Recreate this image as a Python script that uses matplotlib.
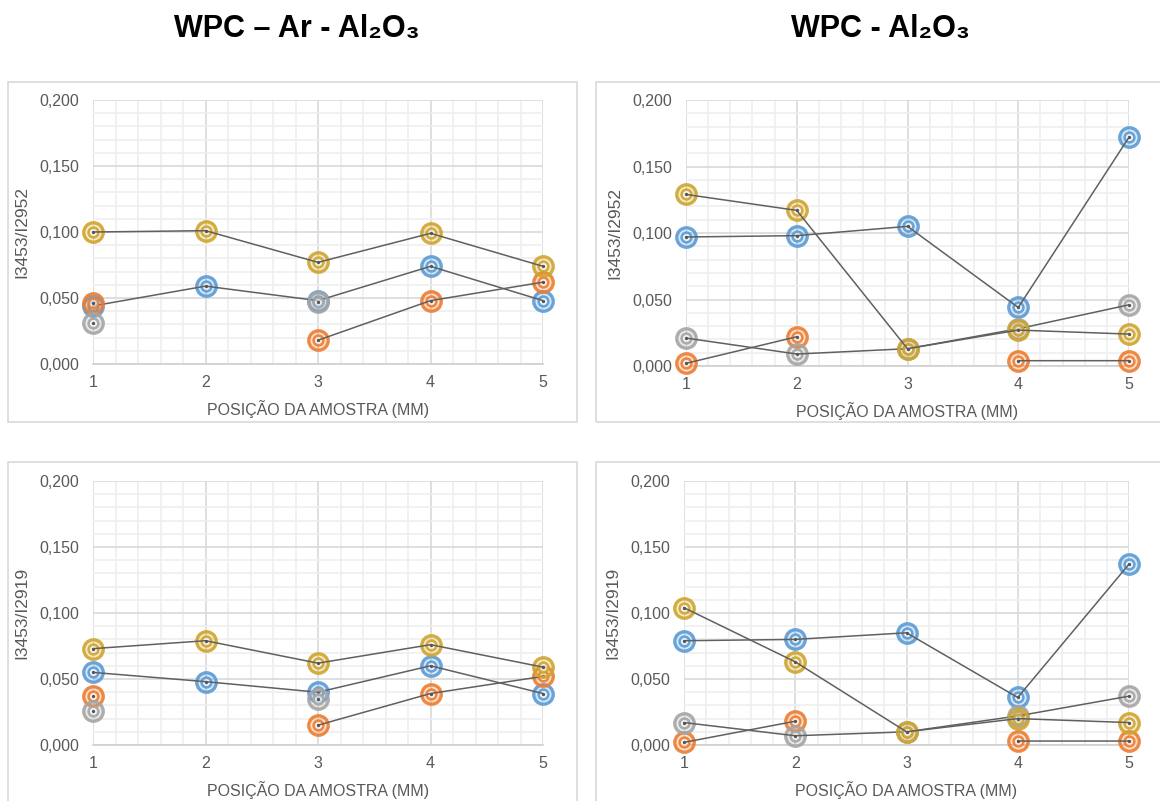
import numpy as np
import matplotlib.pyplot as plt
from matplotlib.patches import Rectangle
from matplotlib.ticker import MultipleLocator

plt.rcParams['font.family'] = ['Liberation Sans', 'DejaVu Sans']

nan = np.nan

positions = [1, 2, 3, 4, 5]
ytick_values = [0.0, 0.05, 0.10, 0.15, 0.20]
ytick_labels = ['0,000', '0,050', '0,100', '0,150', '0,200']
xlabel = 'POSIÇÃO DA AMOSTRA (MM)'

titles = ['WPC – Ar - Al₂O₃', 'WPC - Al₂O₃']
ylabels = ['I3453/I2952', 'I3453/I2919']

# series order: blue, orange, gray, yellow
series_colors = ['#5B9BD5', '#ED7D31', '#A5A5A5', '#CFA52E']

# WPC - Ar - Al2O3, I3453/I2952
ar_2952_blue = [0.044, 0.059, 0.048, 0.074, 0.048]
ar_2952_orange = [0.046, nan, 0.018, 0.048, 0.062]
ar_2952_gray = [0.031, nan, 0.047, nan, nan]
ar_2952_yellow = [0.100, 0.101, 0.077, 0.099, 0.074]

# WPC - Al2O3, I3453/I2952
al_2952_blue = [0.097, 0.098, 0.105, 0.044, 0.172]
al_2952_orange = [0.002, 0.022, nan, 0.004, 0.004]
al_2952_gray = [0.021, 0.009, 0.013, 0.028, 0.046]
al_2952_yellow = [0.129, 0.117, 0.013, 0.027, 0.024]

# WPC - Ar - Al2O3, I3453/I2919
ar_2919_blue = [0.055, 0.048, 0.040, 0.060, 0.039]
ar_2919_orange = [0.037, nan, 0.015, 0.039, 0.052]
ar_2919_gray = [0.026, nan, 0.035, nan, nan]
ar_2919_yellow = [0.073, 0.079, 0.062, 0.076, 0.059]

# WPC - Al2O3, I3453/I2919
al_2919_blue = [0.079, 0.080, 0.085, 0.036, 0.137]
al_2919_orange = [0.002, 0.018, nan, 0.003, 0.003]
al_2919_gray = [0.017, 0.007, 0.010, 0.022, 0.037]
al_2919_yellow = [0.104, 0.063, 0.010, 0.020, 0.017]

panels = [
    [ar_2952_blue, ar_2952_orange, ar_2952_gray, ar_2952_yellow],
    [al_2952_blue, al_2952_orange, al_2952_gray, al_2952_yellow],
    [ar_2919_blue, ar_2919_orange, ar_2919_gray, ar_2919_yellow],
    [al_2919_blue, al_2919_orange, al_2919_gray, al_2919_yellow],
]
panel_ylabels = [ylabels[0], ylabels[0], ylabels[1], ylabels[1]]

W, H = 1160, 801
fig = plt.figure(figsize=(W / 100, H / 100), dpi=100)

# axes boxes in pixels: left, right, top, bottom
axes_px = [
    (93, 543, 100, 364),
    (686, 1129, 100, 366),
    (93, 543, 481, 745),
    (684, 1129, 481, 745),
]
# chart border boxes in pixels: left, right, top, bottom
frames_px = [
    (8, 577, 82, 422),
    (596, 1170, 82, 422),
    (8, 577, 462, 820),
    (596, 1170, 462, 820),
]

for l, r, t, b in frames_px:
    fig.add_artist(Rectangle((l / W, 1 - b / H), (r - l) / W, (b - t) / H,
                             transform=fig.transFigure, fill=False,
                             edgecolor='#d9d9d9', linewidth=1.2))

for k, series in enumerate(panels):
    l, r, t, b = axes_px[k]
    ax = fig.add_axes([l / W, 1 - b / H, (r - l) / W, (b - t) / H])

    for i, (vals, c) in enumerate(zip(series, series_colors)):
        z = 3 + 2 * i
        # outer ring
        ax.plot(positions, vals, linestyle='none', marker='o', markersize=14,
                markerfacecolor=c + '38', markeredgecolor=c + 'e6', markeredgewidth=2.4,
                clip_on=False, zorder=z)
        # inner ring
        ax.plot(positions, vals, linestyle='none', marker='o', markersize=7,
                markerfacecolor='#ffffff99', markeredgecolor=c + 'e6', markeredgewidth=1.9,
                clip_on=False, zorder=z)
        ax.plot(positions, vals, color='#606060', linewidth=1.1, marker='o',
                markersize=2.4, markerfacecolor='#555555', markeredgewidth=0,
                clip_on=False, zorder=z + 1)

    ax.set_xlim(1, 5)
    ax.set_ylim(0, 0.2)
    ax.set_xticks(positions)
    ax.set_xticklabels([str(p) for p in positions])
    ax.set_yticks(ytick_values)
    ax.set_yticklabels(ytick_labels)
    ax.xaxis.set_minor_locator(MultipleLocator(0.2))
    ax.yaxis.set_minor_locator(MultipleLocator(0.01))
    ax.grid(which='minor', color='#efefef', linewidth=1.2, zorder=0)
    ax.grid(which='major', color='#d9d9d9', linewidth=1.2, zorder=1)
    ax.set_axisbelow(True)
    ax.tick_params(which='both', length=0, labelsize=11.5, labelcolor='#595959')
    ax.tick_params(axis='x', pad=8)
    ax.tick_params(axis='y', pad=10)
    for side in ['top', 'right', 'left']:
        ax.spines[side].set_visible(False)
    ax.spines['bottom'].set_color('#d0d0d0')
    ax.spines['bottom'].set_linewidth(1.2)

    ax.set_xlabel(xlabel, fontsize=11.5, color='#595959', labelpad=7)
    ax.set_ylabel(panel_ylabels[k], fontsize=12.5, color='#595959', labelpad=7)

fig.text(297 / W, 1 - 29 / H, titles[0], fontsize=22, fontweight='bold',
         ha='center', va='center')
fig.text(880 / W, 1 - 29 / H, titles[1], fontsize=22, fontweight='bold',
         ha='center', va='center')

fig.savefig('out.png', dpi=100, facecolor='white')
